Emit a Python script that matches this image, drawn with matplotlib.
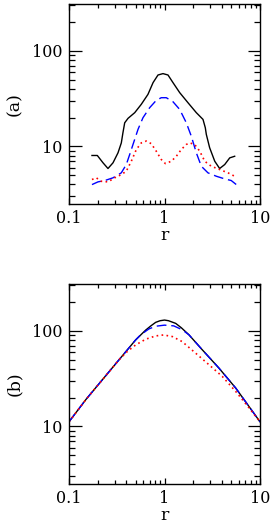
import numpy as np
import matplotlib
matplotlib.use('Agg')
import matplotlib.pyplot as plt
from matplotlib.ticker import LogLocator, FuncFormatter, NullFormatter

plt.rcParams['font.family'] = ['DejaVu Serif']

# Panel (a) curves
a_black_r = [0.174, 0.198, 0.227, 0.256, 0.289, 0.326, 0.353, 0.367, 0.383, 0.415, 0.488, 0.571, 0.671,
             0.759, 0.855, 0.964, 1.088, 1.227, 1.443, 1.762, 2.153, 2.53, 2.675, 2.74, 2.97, 3.36,
             3.78, 4.27, 4.82, 5.43]
a_black_y = [8.05, 8.05, 6.75, 5.88, 6.75, 8.59, 10.9, 13.9, 17.7, 19.7, 22.6, 27.6, 35.1,
             46.6, 56.0, 57.9, 56.0, 46.6, 36.6, 28.7, 22.6, 19.2, 15.7, 13.4, 9.7, 7.0,
             5.88, 6.47, 7.6, 7.9]

a_blue_r = [0.174, 0.201, 0.237, 0.289, 0.353, 0.398, 0.432, 0.468, 0.528, 0.595, 0.700, 0.820, 0.925,
            1.044, 1.227, 1.443, 1.692, 1.909, 2.153, 2.43, 2.85, 3.49, 4.27, 5.0, 5.65]
a_blue_y = [3.99, 4.26, 4.40, 4.70, 5.30, 6.47, 8.24, 10.5, 15.1, 20.0, 25.5, 30.4, 32.4,
            32.4, 29.4, 24.4, 17.7, 12.8, 8.59, 6.21, 5.30, 4.88, 4.58, 4.40, 3.99]

a_red_r = [0.174, 0.193, 0.218, 0.256, 0.301, 0.353, 0.398, 0.449, 0.507, 0.571, 0.645, 0.727, 0.820,
           0.925, 1.02, 1.178, 1.33, 1.50, 1.692, 1.836, 2.07, 2.34, 2.64, 3.09, 3.78, 4.62, 5.43]
a_red_y = [4.51, 4.70, 4.32, 4.26, 4.70, 5.08, 5.51, 7.0, 9.3, 10.9, 11.4, 10.7, 8.92,
           7.31, 6.63, 7.0, 7.9, 9.3, 10.5, 10.9, 10.5, 8.92, 7.0, 6.21, 5.74, 5.30, 4.88]

# Panel (b) curves
b_black_r = [0.1, 0.15, 0.224, 0.334, 0.499, 0.635, 0.72, 0.808, 0.9, 1.0, 1.1, 1.31, 1.5, 1.805, 2.49, 3.72, 5.56, 10.0]
b_black_y = [11.2, 19.1, 30.9, 49.9, 80.6, 102, 113, 123, 128, 130, 128, 120, 108, 91, 63.4, 40.8, 25.3, 11.2]

b_blue_r = [0.1, 0.15, 0.224, 0.334, 0.499, 0.562, 0.687, 0.808, 1.0, 1.25, 1.53, 1.805, 2.49, 3.72, 5.56, 10.0]
b_blue_y = [11.2, 19.1, 30.9, 49.9, 80.6, 91, 105, 112, 115, 113, 103, 91, 63.4, 40.8, 25.3, 11.2]

b_red_r = [0.1, 0.15, 0.224, 0.334, 0.408, 0.499, 0.635, 0.808, 0.98, 1.21, 1.53, 2.12, 2.92, 4.03, 5.56, 7.67, 10.0]
b_red_y = [11.2, 19.1, 30.9, 49.9, 61, 71.4, 81.9, 88.7, 90.8, 87.3, 77.4, 58.5, 44.3, 33.4, 23.3, 15.7, 11.2]

fig = plt.figure(figsize=(2.73, 5.30), dpi=100)

def fmt(v, pos):
    return '%g' % v

def style_axes(ax, label):
    ax.set_xscale('log')
    ax.set_yscale('log')
    ax.set_xlim(0.1, 10)
    ax.set_ylim(2.5, 310)
    ax.xaxis.set_major_locator(LogLocator(base=10))
    ax.yaxis.set_major_locator(LogLocator(base=10))
    ax.xaxis.set_minor_locator(LogLocator(base=10, subs=np.arange(2, 10)))
    ax.yaxis.set_minor_locator(LogLocator(base=10, subs=np.arange(2, 10)))
    ax.xaxis.set_major_formatter(FuncFormatter(fmt))
    ax.yaxis.set_major_formatter(FuncFormatter(fmt))
    ax.xaxis.set_minor_formatter(NullFormatter())
    ax.yaxis.set_minor_formatter(NullFormatter())
    ax.tick_params(which='both', direction='in', top=True, right=True, labelsize=11.5, width=0.9)
    ax.tick_params(axis='x', which='major', length=4.5, pad=4.5)
    ax.tick_params(axis='x', which='minor', length=3)
    ax.tick_params(axis='y', which='major', length=9, pad=5)
    ax.tick_params(axis='y', which='minor', length=4.5)
    for s in ax.spines.values():
        s.set_linewidth(1.0)
    ax.set_xlabel('r', fontsize=12.5, labelpad=0)
    ax.set_ylabel(label, fontsize=12.5, labelpad=6)

ax1 = fig.add_axes([69/273, 1 - 204/530, 191/273, 200/530])
ax1.plot(a_black_r, a_black_y, color='black', lw=1.0)
ax1.plot(a_blue_r, a_blue_y, color='blue', lw=1.0, ls=(0, (7, 3.5)))
ax1.plot(a_red_r, a_red_y, color='red', lw=1.2, ls=(0, (1, 2)))
style_axes(ax1, '(a)')

ax2 = fig.add_axes([69/273, 1 - 484/530, 191/273, 200/530])
ax2.plot(b_black_r, b_black_y, color='black', lw=1.0)
ax2.plot(b_blue_r, b_blue_y, color='blue', lw=1.0, ls=(0, (7, 3.5)))
ax2.plot(b_red_r, b_red_y, color='red', lw=1.2, ls=(0, (1, 2)))
style_axes(ax2, '(b)')

fig.savefig('out.png', dpi=100)
